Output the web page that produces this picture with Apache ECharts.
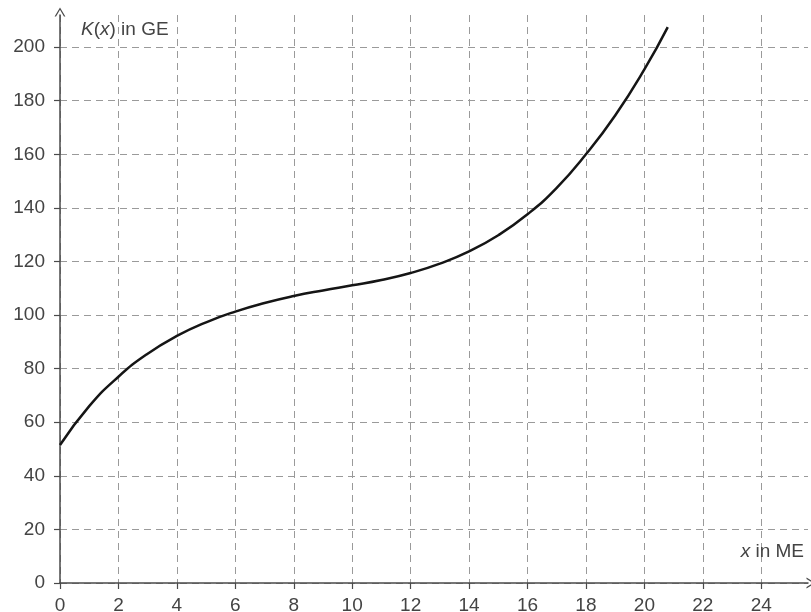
<!DOCTYPE html>
<html>
<head>
<meta charset="utf-8">
<script src="https://cdn.jsdelivr.net/npm/echarts@6/dist/echarts.min.js"></script>
<style>
html, body { margin: 0; padding: 0; background: #fff; }
#chart { width: 811px; height: 612px; }
</style>
</head>
<body>
<div id="chart"></div>
<script>
// Values
var xValues = [0, 1, 2, 3, 4, 5, 6, 7, 8, 9, 10, 11, 12, 13, 14, 15, 16, 17, 18, 19, 20, 20.8];
var kValues = [51.5, 66, 77, 85.6, 92.2, 97.3, 101.3, 104.5, 107.1, 109.2, 111.1, 113.1, 115.7, 119.2, 123.8, 129.8, 137.6, 147.5, 160, 174.5, 191.7, 207.5];
var xTicks = [0, 2, 4, 6, 8, 10, 12, 14, 16, 18, 20, 22, 24];
var yTicks = [0, 20, 40, 60, 80, 100, 120, 140, 160, 180, 200];

var seriesData = xValues.map(function (x, i) { return [x, kValues[i]]; });

var gridGrey = '#9a9a9a';
var axisColor = '#4a4a4a';
var labelColor = '#444';
var fontFam = '"Liberation Sans", Arial, sans-serif';

// grid line colours: visible for labelled ticks, transparent for the extra boundary tick
var xLineColors = xTicks.map(function () { return gridGrey; }).concat(['rgba(0,0,0,0)']);
var yLineColors = yTicks.map(function () { return gridGrey; }).concat(['rgba(0,0,0,0)']);

var arrowPath = 'path://M0,10 L6,0 L12,10 L10.4,10 L6,2.6 L1.6,10 Z';

var chart = echarts.init(document.getElementById('chart'), null, { renderer: 'canvas' });
chart.setOption({
  backgroundColor: '#fff',
  animation: false,
  grid: { left: 60, right: 3, top: 15, bottom: 29, containLabel: false, outerBoundsMode: 'none' },
  xAxis: {
    type: 'value',
    min: 0,
    max: 25.6,
    interval: 2,
    name: '{i|x} in ME',
    nameLocation: 'end',
    nameGap: 0,
    nameTextStyle: {
      color: labelColor, fontSize: 19, fontFamily: fontFam,
      align: 'right', verticalAlign: 'bottom', padding: [0, 4, 22, 0],
      rich: { i: { fontStyle: 'italic', fontSize: 19, fontFamily: fontFam, color: labelColor } }
    },
    axisLine: { show: true, onZero: false, lineStyle: { color: axisColor, width: 1.5 },
      symbol: ['none', arrowPath], symbolSize: [12, 9], symbolOffset: [0, 3] },
    axisTick: { show: true, length: 6, lineStyle: { color: axisColor, width: 1.2 } },
    axisLabel: {
      color: labelColor, fontSize: 19, fontFamily: fontFam, margin: 13,
      showMaxLabel: false,
      formatter: function (v) { return xTicks.indexOf(v) >= 0 ? String(v) : ''; }
    },
    splitLine: { show: true, lineStyle: { color: xLineColors, type: [7, 5], width: 1 } }
  },
  yAxis: {
    type: 'value',
    min: 0,
    max: 212,
    interval: 20,
    name: '{i|K}({i|x}) in GE',
    nameLocation: 'end',
    nameGap: -15,
    nameTextStyle: {
      color: labelColor, fontSize: 19, fontFamily: fontFam,
      align: 'left', verticalAlign: 'middle', padding: [0, 0, 0, 21],
      rich: { i: { fontStyle: 'italic', fontSize: 19, fontFamily: fontFam, color: labelColor } }
    },
    axisLine: { show: true, onZero: false, lineStyle: { color: axisColor, width: 1.5 },
      symbol: ['none', arrowPath], symbolSize: [12, 9], symbolOffset: [0, 3] },
    axisTick: { show: true, length: 6, lineStyle: { color: axisColor, width: 1.2 } },
    axisLabel: {
      color: labelColor, fontSize: 19, fontFamily: fontFam, margin: 15,
      showMaxLabel: false,
      formatter: function (v) { return yTicks.indexOf(v) >= 0 ? String(v) : ''; }
    },
    splitLine: { show: true, lineStyle: { color: yLineColors, type: [7, 5], width: 1 } }
  },
  series: [{
    type: 'line',
    data: seriesData,
    smooth: true,
    showSymbol: false,
    symbol: 'none',
    lineStyle: { color: '#151515', width: 2.5 },
    clip: false,
    z: 5
  }]
});
</script>
</body>
</html>
